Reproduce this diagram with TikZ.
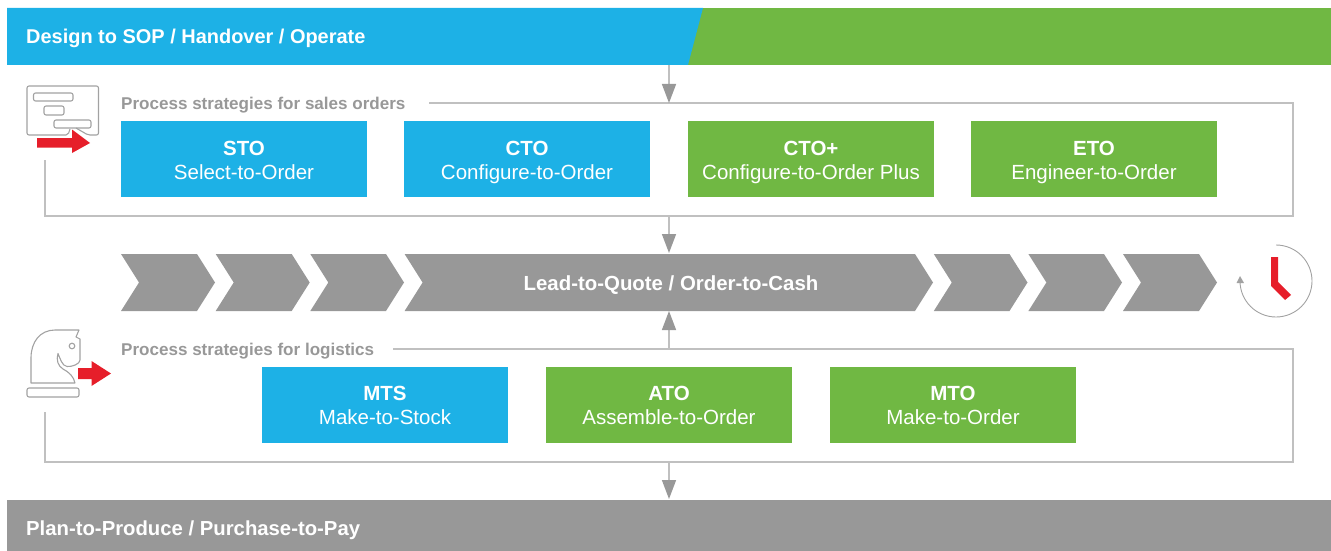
\documentclass[tikz,border=0pt]{standalone}
\usepackage{fontspec}
\setmainfont{Liberation Sans}
\usetikzlibrary{arrows.meta}
\definecolor{cblue}{HTML}{1DB1E6}
\definecolor{cgreen}{HTML}{70B843}
\definecolor{cgray}{HTML}{989898}
\definecolor{cline}{HTML}{C0C0C0}
\definecolor{cicon}{HTML}{A2A2A2}
\definecolor{cred}{HTML}{E61E2A}
\tikzset{
  x=1pt,y=-1pt,
  stratbox/.style={minimum width=246pt,minimum height=76pt,inner sep=0pt,text=white},
  bluebox/.style={stratbox,fill=cblue},
  greenbox/.style={stratbox,fill=cgreen},
  boxlabel/.style={anchor=base,align=center,text=white,inner sep=0pt,font=\fontsize{20.5}{24}\selectfont},
  bartext/.style={anchor=base west,text=white,inner sep=0pt,font=\fontsize{20}{22}\selectfont\bfseries},
  grouplabel/.style={anchor=base west,text=cgray,inner sep=0pt,font=\fontsize{17.05}{19}\selectfont\bfseries},
  frameline/.style={draw=cline,line width=1.2pt},
  flow/.style={draw=cline,line width=1.5pt,-{Triangle[length=19pt,width=14pt,color=cgray]},shorten >=0pt},
  iconline/.style={draw=cicon,line width=1.1pt,rounded corners=2pt},
  redfill/.style={fill=cred,draw=none},
  chev/.style={fill=cgray,draw=none},
}
\newcommand{\chevron}[2]{\fill[chev] (#1,254) -- (#2-18,254) -- (#2,282.5) -- (#2-18,311) -- (#1,311) -- (#1+18,282.5) -- cycle;}
\newcommand{\boxtext}[2]{\textbf{#1}\\#2\vphantom{g}}
\begin{document}
\begin{tikzpicture}
\useasboundingbox (0,0) rectangle (1331,551);
% top bar
\fill[cgreen] (688,8) rectangle (1331,65);
\fill[cblue] (7,8) -- (703,8) -- (688,65) -- (7,65) -- cycle;
\node[bartext,font=\fontsize{19.95}{22}\selectfont\bfseries] (top) at (26,44) {Design to SOP / Handover / Operate};
\coordinate (topout) at (669,65);
% bottom bar
\fill[cgray] (7,500) rectangle (1331,551);
\node[bartext,font=\fontsize{20.3}{22}\selectfont\bfseries] (bottom) at (26,535) {Plan-to-Produce / Purchase-to-Pay};
\coordinate (botin) at (669,499);
% frames
\draw[frameline] (429,103) -- (1293,103) -- (1293,216) -- (45,216) -- (45,160);
\draw[frameline] (393,349) -- (1293,349) -- (1293,462) -- (45,462) -- (45,412);
\node[grouplabel] (l1) at (121,109) {Process strategies for sales orders};
\node[grouplabel] (l2) at (121,355) {Process strategies for logistics};
% boxes
\node[bluebox] (sto) at (244,159) {};
\node[bluebox] (cto) at (527,159) {};
\node[greenbox] (ctop) at (811,159) {};
\node[greenbox] (eto) at (1094,159) {};
\node[bluebox] (mts) at (385,405) {};
\node[greenbox] (ato) at (669,405) {};
\node[greenbox] (mto) at (953,405) {};
\node[boxlabel] (tsto) at (244,179) {\boxtext{STO}{Select-to-Order}};
\node[boxlabel] (tcto) at (527,179) {\boxtext{CTO}{Configure-to-Order}};
\node[boxlabel] (tctop) at (811,179) {\boxtext{CTO+}{Configure-to-Order Plus}};
\node[boxlabel] (teto) at (1094,179) {\boxtext{ETO}{Engineer-to-Order}};
\node[boxlabel] (tmts) at (385,424) {\boxtext{MTS}{Make-to-Stock}};
\node[boxlabel] (tato) at (669,424) {\boxtext{ATO}{Assemble-to-Order}};
\node[boxlabel] (tmto) at (953,424) {\boxtext{MTO}{Make-to-Order}};
% chevrons
\chevron{121}{215}
\chevron{215.7}{309.7}
\chevron{310.3}{404}
\chevron{404.6}{933}
\chevron{933.8}{1027.5}
\chevron{1028.4}{1122}
\chevron{1123}{1217}
\node[anchor=base,text=white,inner sep=0pt,font=\fontsize{20.4}{22}\selectfont\bfseries] (lead) at (671,290) {Lead-to-Quote / Order-to-Cash};
% flow arrows
\coordinate (f1) at (669,103);
\coordinate (f2a) at (669,216);
\coordinate (f2b) at (669,253);
\coordinate (f3a) at (669,349);
\coordinate (f3b) at (669,311);
\coordinate (f4a) at (669,462);
\draw[flow] (topout) -- (f1);
\draw[flow] (f2a) -- (f2b);
\draw[flow] (f3a) -- (f3b);
\draw[flow] (f4a) -- (botin);
% icon 1
\draw[iconline] (37,135) -- (27,135) -- (27,86) -- (98.5,86) -- (98.5,135) -- (88,135) -- (76,128);
\draw[iconline] (70,129) -- (68,135) -- (37,135);
\draw[iconline] (33.5,93) rectangle (73,101);
\draw[iconline] (44,106) rectangle (64,115);
\draw[iconline] (54,120) rectangle (91,128);
\fill[redfill] (37,138) -- (72,138) -- (72,129.5) -- (90,143) -- (72,153) -- (72,147.5) -- (37,147.5) -- cycle;
% icon 2
\draw[draw=cicon,line width=1.1pt,line join=round] (31,383) -- (31,358) .. controls (31,342) and (40,330) .. (55,330) -- (79,330) -- (76,337) -- (80,339) -- (80,360) .. controls (80,364) and (72,367) .. (67,366.5) .. controls (62,366) and (60,358) .. (58,353.5) .. controls (56,360) and (58,366) .. (63,369) .. controls (69,372) and (74,377) .. (75,383) -- cycle;
\draw[draw=cicon,line width=1.1pt] (72,346) circle (2.8);
\draw[iconline] (27,388) rectangle (79,397);
\fill[redfill] (78,368) -- (91.5,368) -- (91.5,361) -- (111,373.5) -- (91.5,386) -- (91.5,379) -- (78,379) -- cycle;
% clock
\draw[draw=cicon,line width=.9pt] (1276,245) arc[start angle=-90,end angle=180,radius=36];
\fill[cicon] (1240,276) -- (1244,283) -- (1236.5,283) -- cycle;
\fill[redfill] (1271,257) -- (1278,257) -- (1278,282) -- (1291,295) -- (1285,300) -- (1271,286) -- cycle;
\end{tikzpicture}
\end{document}
